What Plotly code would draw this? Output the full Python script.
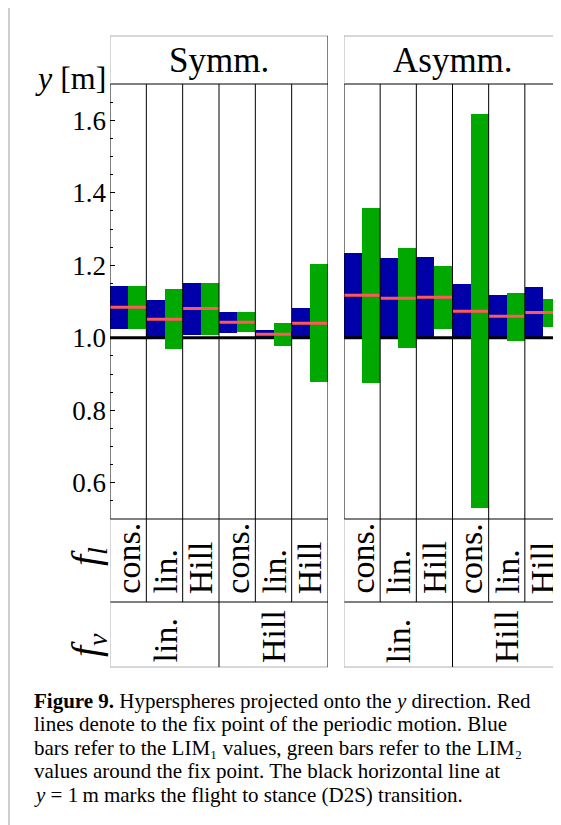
import plotly.graph_objects as go

# window is 561x825; the page body has an 8px margin, so the figure is 553x817
OFF = 8
W, H = 561 - OFF, 825 - OFF

# ---------------- data ----------------
panels = ["Symm.", "Asymm."]
fl_labels = ["cons.", "lin.", "Hill", "cons.", "lin.", "Hill"]   # f_l per column
fv_labels = ["lin.", "Hill"]                                       # f_v per group of 3
D2S_Y = 1.0                                                        # flight-to-stance height

symm_lim1_lo = [1.025, 1.000, 1.008, 1.014, 1.000, 1.000]
symm_lim1_hi = [1.143, 1.104, 1.151, 1.071, 1.021, 1.082]
symm_lim2_lo = [1.025, 0.970, 1.008, 1.017, 0.978, 0.879]
symm_lim2_hi = [1.143, 1.134, 1.151, 1.071, 1.041, 1.203]
symm_fix = [1.084, 1.051, 1.081, 1.043, 1.010, 1.040]

asymm_lim1_lo = [1.000, 1.000, 1.003, 1.000, 1.000, 1.000]
asymm_lim1_hi = [1.234, 1.220, 1.223, 1.148, 1.118, 1.140]
asymm_lim2_lo = [0.874, 0.973, 1.025, 0.529, 0.992, 1.031]
asymm_lim2_hi = [1.358, 1.247, 1.198, 1.617, 1.123, 1.107]
asymm_fix = [1.117, 1.109, 1.112, 1.073, 1.059, 1.070]

caption_lines = [
    "<b>Figure 9.</b> Hyperspheres projected onto the <i>y</i> direction. Red",
    "lines denote to the fix point of the periodic motion. Blue",
    "bars refer to the LIM\u2081 values, green bars refer to the LIM\u2082",
    "values around the fix point. The black horizontal line at",
    "<i>y</i> = 1\u2009m marks the flight to stance (D2S) transition.",
]

# ---------------- styling ----------------
FONT = "Liberation Serif"
BLUE = "#0000A8"
GREEN = "#00A800"
RED = "#FF5858"
GREY = "#B0B0B0"


def px(x):
    """window pixel x -> paper fraction"""
    return (x - OFF) / W


def py(y):
    """window pixel y (from top) -> paper fraction"""
    return 1 - (y - OFF) / H


data = [
    (symm_lim1_lo, symm_lim1_hi, symm_lim2_lo, symm_lim2_hi, symm_fix),
    (asymm_lim1_lo, asymm_lim1_hi, asymm_lim2_lo, asymm_lim2_hi, asymm_fix),
]
axis_ids = [("x", "x2", "y"), ("x3", "x4", "y2")]
panel_px = [(110, 328), (344, 562)]

Y_HEAD_TOP, Y_PLOT_TOP, Y_PLOT_BOT, Y_ROW_MID, Y_ROW_BOT = 36, 84, 519, 602, 667

fig = go.Figure()
ncol = len(fl_labels)
idx = list(range(ncol))

for p, (l1lo, l1hi, l2lo, l2hi, fix) in enumerate(data):
    xb, xo, ya = axis_ids[p]
    fig.add_trace(go.Bar(x=idx, y=[h - l for l, h in zip(l1lo, l1hi)], base=l1lo,
                         width=0.5, offset=-0.5, marker=dict(color=BLUE, line=dict(width=0)),
                         xaxis=xb, yaxis=ya, showlegend=False, hoverinfo="skip"))
    fig.add_trace(go.Scatter(x=[-0.5, ncol - 0.5], y=[D2S_Y, D2S_Y], mode="lines",
                             line=dict(color="black", width=3), xaxis=xb, yaxis=ya,
                             showlegend=False, hoverinfo="skip"))
    fig.add_trace(go.Bar(x=idx, y=[h - l for l, h in zip(l2lo, l2hi)], base=l2lo,
                         width=0.5, offset=0.0, marker=dict(color=GREEN, line=dict(width=0)),
                         xaxis=xo, yaxis=ya, showlegend=False, hoverinfo="skip"))
    rx, ry = [], []
    for i, f in enumerate(fix):
        rx += [i - 0.5, i + 0.5, None]
        ry += [f, f, None]
    fig.add_trace(go.Scatter(x=rx, y=ry, mode="lines", line=dict(color=RED, width=3),
                             xaxis=xo, yaxis=ya, showlegend=False, hoverinfo="skip"))

shapes = []
annotations = []


def vline(xref, x, y0, y1, color="black", width=1):
    shapes.append(dict(type="line", xref=xref, yref="paper", x0=x, x1=x,
                       y0=py(y0), y1=py(y1), line=dict(color=color, width=width)))


def hline(xref, x0, x1, y, color="black", width=1):
    shapes.append(dict(type="line", xref=xref, yref="paper", x0=x0, x1=x1,
                       y0=py(y), y1=py(y), line=dict(color=color, width=width)))


for p in range(2):
    xb = axis_ids[p][0]
    right = ncol - 0.5
    # horizontal lines
    hline(xb, -0.5, right, Y_HEAD_TOP, GREY)
    hline(xb, -0.5, right, Y_PLOT_TOP)
    hline(xb, -0.5, right, Y_PLOT_BOT)
    hline(xb, -0.5, right, Y_ROW_MID)
    hline(xb, -0.5, right, Y_ROW_BOT, GREY)
    # left edge
    vline(xb, -0.5, Y_HEAD_TOP, Y_PLOT_TOP, GREY)
    vline(xb, -0.5, Y_PLOT_TOP, Y_PLOT_BOT)
    vline(xb, -0.5, Y_PLOT_BOT, Y_ROW_BOT, GREY)
    # interior column separators
    for i in range(ncol - 1):
        vline(xb, i + 0.5, Y_PLOT_TOP, Y_ROW_MID)
    # group separator in f_v row
    vline(xb, 2.5, Y_ROW_MID, Y_ROW_BOT)
    # right edge (only visible for first panel)
    if p == 0:
        vline(xb, right, Y_HEAD_TOP, Y_ROW_BOT)

    # header
    x0p, x1p = panel_px[p]
    annotations.append(dict(xref="paper", yref="paper", x=px((x0p + x1p) / 2),
                            y=py(60), text=panels[p], showarrow=False,
                            xanchor="center", yanchor="middle",
                            font=dict(family=FONT, size=35, color="black")))
    # f_l labels
    for i, lab in enumerate(fl_labels):
        annotations.append(dict(xref=xb, yref="paper", x=i, y=py(596), text=lab,
                                textangle=-90, showarrow=False, xanchor="center",
                                yanchor="bottom",
                                font=dict(family=FONT, size=34, color="black")))
    # f_v labels
    for g, lab in enumerate(fv_labels):
        annotations.append(dict(xref=xb, yref="paper", x=3 * g + 1, y=py(665), text=lab,
                                textangle=-90, showarrow=False, xanchor="center",
                                yanchor="bottom",
                                font=dict(family=FONT, size=34, color="black")))

# page border line
shapes.append(dict(type="line", xref="paper", yref="paper", x0=px(9), x1=px(9),
                   y0=0, y1=1, line=dict(color="#CFCFCF", width=2)))

# axis label
annotations.append(dict(xref="paper", yref="paper", x=px(108), y=py(78),
                        text="<i>y</i> [m]", showarrow=False, xanchor="right",
                        yanchor="middle", font=dict(family=FONT, size=32, color="black")))
# row labels
annotations.append(dict(xref="paper", yref="paper", x=px(88), y=py(557),
                        text="<i>f<sub>l</sub></i>", textangle=-90, showarrow=False,
                        xanchor="center", yanchor="middle",
                        font=dict(family=FONT, size=40, color="black")))
annotations.append(dict(xref="paper", yref="paper", x=px(88), y=py(645),
                        text="<i>f<sub>v</sub></i>", textangle=-90, showarrow=False,
                        xanchor="center", yanchor="middle",
                        font=dict(family=FONT, size=40, color="black")))
# caption
for k, line in enumerate(caption_lines):
    annotations.append(dict(xref="paper", yref="paper", x=px(32), y=py(700.5 + 23.5 * k),
                            text=line, showarrow=False, xanchor="left", yanchor="middle",
                            align="left", font=dict(family=FONT, size=21, color="black")))

common_x = dict(range=[-0.5, ncol - 0.5], showgrid=False, zeroline=False, showline=False,
                showticklabels=False, ticks="", fixedrange=True)
common_y = dict(range=[0.5, 1.7], domain=[py(Y_PLOT_BOT), py(Y_PLOT_TOP)], showgrid=False,
                zeroline=False, showline=False, fixedrange=True)

fig.update_layout(
    width=W, height=H,
    margin=dict(l=0, r=0, t=0, b=0),
    paper_bgcolor="white", plot_bgcolor="rgba(0,0,0,0)",
    barmode="overlay", bargap=0,
    showlegend=False,
    xaxis=dict(domain=[px(110), px(328)], anchor="y", **common_x),
    xaxis2=dict(overlaying="x", anchor="y", visible=False, range=[-0.5, ncol - 0.5]),
    xaxis3=dict(domain=[px(344), min(1.0, px(562))], anchor="y2", **common_x),
    xaxis4=dict(overlaying="x3", anchor="y2", visible=False, range=[-0.5, ncol - 0.5]),
    yaxis=dict(anchor="x", ticks="inside", ticklen=5, tickwidth=1, tickcolor="black",
               tick0=0.6, dtick=0.2, tickformat=".1f", ticklabelstandoff=3,
               tickfont=dict(family=FONT, size=27, color="black"),
               minor=dict(ticks="inside", ticklen=3, tickwidth=1, tickcolor="black",
                          tick0=0.5, dtick=0.05),
               **common_y),
    yaxis2=dict(anchor="x3", showticklabels=False, ticks="", **common_y),
    shapes=shapes,
    annotations=annotations,
)

fig.write_html("out.html")
